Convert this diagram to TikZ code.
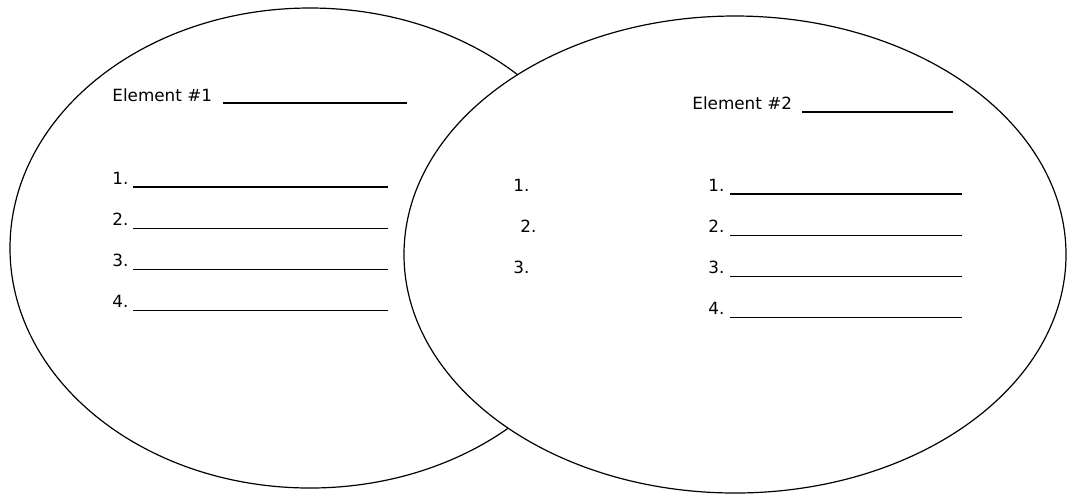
\documentclass[tikz,border=0pt]{standalone}
\usepackage{fontspec}
\setmainfont{DejaVu Sans}
\usetikzlibrary{shapes.geometric}

\begin{document}
\begin{tikzpicture}[x=0.5pt, y=-0.5pt, node distance=20.6pt,
  venn/.style={ellipse, draw=black, line width=0.6pt, fill=white, inner sep=0pt},
  entry/.style={inner sep=0pt, font=\fontsize{8.4}{10}\selectfont},
  blank/.style={draw=black, line width=0.75pt}
]

\fill[white] (0,0) rectangle (1070,495);

\node (set1) [venn, minimum width=300pt, minimum height=240pt] at (310,248) {};
\node (set2) [venn, minimum width=331pt, minimum height=238.5pt] at (735,254.5) {};

% first element
\node (name1) [entry, anchor=base west] at (112,101) {Element \#1};
\node (a1) [entry, anchor=base west] at (112,184) {1.};
\node (a2) [entry, below of=a1] {2.};
\node (a3) [entry, below of=a2] {3.};
\node (a4) [entry, below of=a3] {4.};

% shared part
\node (m1) [entry, anchor=base west] at (513,191) {1.};
\node (m2) [entry, below of=m1, xshift=3.5pt] {2.};
\node (m3) [entry, below of=m2, xshift=-3.5pt] {3.};

% second element
\node (name2) [entry, anchor=base west] at (692,109) {Element \#2};
\node (b1) [entry, anchor=base west] at (708,191) {1.};
\node (b2) [entry, below of=b1] {2.};
\node (b3) [entry, below of=b2] {3.};
\node (b4) [entry, below of=b3] {4.};

\draw [blank] ([xshift=55.5pt, yshift=-1pt]name1.base west) -- ++(184,0);
\draw [blank] ([xshift=10.5pt, yshift=-1.5pt]a1.base west) -- ++(255,0);
\draw [blank] ([xshift=10.5pt, yshift=-1.5pt]a2.base west) -- ++(255,0);
\draw [blank] ([xshift=10.5pt, yshift=-1.5pt]a3.base west) -- ++(255,0);
\draw [blank] ([xshift=10.5pt, yshift=-1.5pt]a4.base west) -- ++(255,0);

\draw [blank] ([xshift=55pt, yshift=-1.5pt]name2.base west) -- ++(151,0);
\draw [blank] ([xshift=11pt, yshift=-1.5pt]b1.base west) -- ++(232,0);
\draw [blank] ([xshift=11pt, yshift=-1.5pt]b2.base west) -- ++(232,0);
\draw [blank] ([xshift=11pt, yshift=-1.5pt]b3.base west) -- ++(232,0);
\draw [blank] ([xshift=11pt, yshift=-1.5pt]b4.base west) -- ++(232,0);

\end{tikzpicture}
\end{document}
